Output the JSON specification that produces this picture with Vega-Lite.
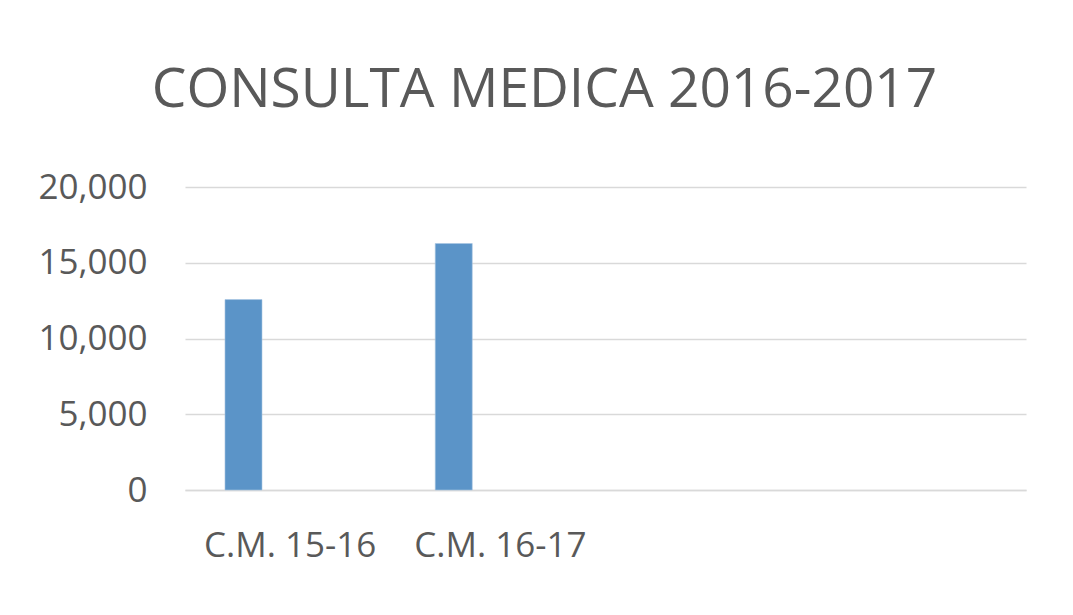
{
  "$schema": "https://vega.github.io/schema/vega-lite/v6.json",
  "width": 841,
  "height": 303,
  "autosize": {"type": "none"},
  "padding": {"left": 185, "top": 187, "right": 47, "bottom": 125},
  "background": "white",
  "title": {
    "text": "CONSULTA MEDICA 2016-2017",
    "font": "Open Sans",
    "fontSize": 55,
    "fontWeight": "normal",
    "color": "#595959",
    "anchor": "middle",
    "dx": -61,
    "offset": 51
  },
  "data": {
    "values": [
      {"periodo": "C.M. 15-16", "serie": "s1", "consultas": 12570},
      {"periodo": "C.M. 16-17", "serie": "s1", "consultas": 16270}
    ]
  },
  "mark": {"type": "bar", "color": "#5b94c8", "stroke": "#a9c6e3", "strokeWidth": 0.6},
  "encoding": {
    "x": {
      "field": "periodo",
      "type": "nominal",
      "scale": {"domain": ["C.M. 15-16", "C.M. 16-17", " ", "  "], "paddingInner": 0, "paddingOuter": 0},
      "axis": {
        "title": null,
        "labelAngle": 0,
        "labelFont": "Open Sans",
        "labelFontSize": 35,
        "labelColor": "#595959",
        "labelPadding": 38,
        "ticks": false,
        "domainColor": "#d9d9d9",
        "domainWidth": 1.5,
        "grid": false
      }
    },
    "xOffset": {
      "field": "serie",
      "type": "nominal",
      "scale": {"domain": ["s1", "s2", "s3", "s4"], "paddingInner": 0, "paddingOuter": 0.84, "align": 0.643}
    },
    "y": {
      "field": "consultas",
      "type": "quantitative",
      "scale": {"domain": [0, 20000], "nice": false},
      "axis": {
        "title": null,
        "values": [0, 5000, 10000, 15000, 20000],
        "format": ",d",
        "labelFont": "Open Sans",
        "labelFontSize": 35,
        "labelColor": "#595959",
        "labelPadding": 38,
        "ticks": false,
        "domain": false,
        "gridColor": "#d9d9d9",
        "gridWidth": 1.5
      }
    }
  },
  "config": {"view": {"stroke": null}}
}
